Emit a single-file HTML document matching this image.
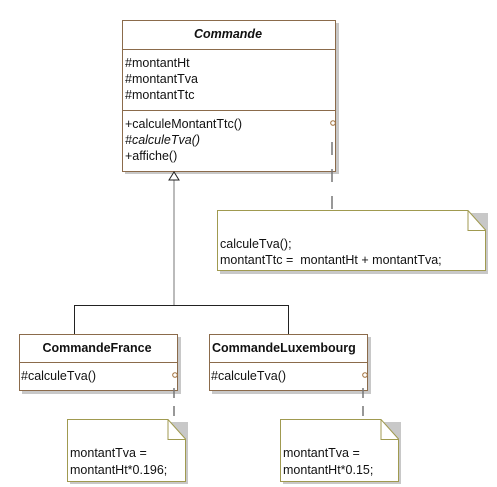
<!DOCTYPE html>
<html><head><meta charset="utf-8"><style>
html,body{margin:0;padding:0;background:#fff;width:497px;height:487px;overflow:hidden}
text{font-family:"Liberation Sans",sans-serif;font-size:12.5px;fill:#111}
</style></head><body>
<svg width="497" height="487" viewBox="0 0 497 487" xmlns="http://www.w3.org/2000/svg">
<!-- Commande -->
<rect x="125" y="23" width="214" height="151" fill="#c8c8c8"/>
<rect x="122.5" y="20.5" width="213" height="151" fill="#fff" stroke="#8b6b4b"/>
<line x1="122" y1="49.5" x2="335" y2="49.5" stroke="#8b6b4b"/>
<line x1="122" y1="110.5" x2="335" y2="110.5" stroke="#8b6b4b"/>
<text x="228" y="38" text-anchor="middle" font-weight="bold" font-style="italic">Commande</text>
<text x="125" y="67">#montantHt</text>
<text x="125" y="83">#montantTva</text>
<text x="125" y="99">#montantTtc</text>
<text x="125" y="128">+calculeMontantTtc()</text>
<text x="125" y="144" font-style="italic">#calculeTva()</text>
<text x="125" y="160">+affiche()</text>
<circle cx="333" cy="123" r="2.3" fill="#fff" stroke="#a0703c"/>
<line x1="332" y1="142" x2="332" y2="210" stroke="#777" stroke-width="1.5" stroke-dasharray="13,14"/>
<!-- inheritance -->
<line x1="174" y1="180" x2="174" y2="305.5" stroke="#777"/>
<polygon points="174,172 169,180 179,180" fill="#fff" stroke="#222"/>
<polyline points="74.5,334 74.5,305.5 288.5,305.5 288.5,334" fill="none" stroke="#222"/>
<!-- note top -->
<rect x="220" y="213" width="268" height="61" fill="#c8c8c8"/>
<path d="M217.5,210.5 H468 L485.5,230 V270.5 H217.5 Z" fill="#fff" stroke="#a09a50"/>
<path d="M468,210.5 V230.5 H485.5" fill="none" stroke="#a09a50"/>
<text x="220" y="248">calculeTva();</text>
<text x="220" y="264">montantTtc =&#160;&#160;montantHt + montantTva;</text>
<!-- CommandeFrance -->
<rect x="22" y="337" width="159" height="57" fill="#c8c8c8"/>
<rect x="19.5" y="334.5" width="158" height="56" fill="#fff" stroke="#8b6b4b"/>
<line x1="19" y1="362.5" x2="178" y2="362.5" stroke="#8b6b4b"/>
<text x="97" y="352" text-anchor="middle" font-weight="bold">CommandeFrance</text>
<text x="21" y="380">#calculeTva()</text>
<circle cx="175" cy="375" r="2.3" fill="#fff" stroke="#a0703c"/>
<line x1="174" y1="388" x2="174" y2="419" stroke="#777" stroke-width="1.5" stroke-dasharray="10,8"/>
<!-- CommandeLuxembourg -->
<rect x="212" y="337" width="159" height="57" fill="#c8c8c8"/>
<rect x="209.5" y="334.5" width="158" height="56" fill="#fff" stroke="#8b6b4b"/>
<line x1="209" y1="362.5" x2="368" y2="362.5" stroke="#8b6b4b"/>
<text x="212" y="352" font-weight="bold">CommandeLuxembourg</text>
<text x="211" y="380">#calculeTva()</text>
<circle cx="365" cy="375" r="2.3" fill="#fff" stroke="#a0703c"/>
<line x1="363" y1="388" x2="363" y2="419" stroke="#777" stroke-width="1.5" stroke-dasharray="10,8"/>
<!-- notes bottom -->
<rect x="70" y="422" width="118" height="62" fill="#c8c8c8"/>
<path d="M67.5,419.5 H168 L185.5,439 V481.5 H67.5 Z" fill="#fff" stroke="#a09a50"/>
<path d="M168,419.5 V439.5 H185.5" fill="none" stroke="#a09a50"/>
<text x="70" y="457">montantTva =</text>
<text x="70" y="474">montantHt*0.196;</text>
<rect x="283" y="422" width="118" height="62" fill="#c8c8c8"/>
<path d="M280.5,419.5 H381 L398.5,439 V481.5 H280.5 Z" fill="#fff" stroke="#a09a50"/>
<path d="M381,419.5 V439.5 H398.5" fill="none" stroke="#a09a50"/>
<text x="283" y="457">montantTva =</text>
<text x="283" y="474">montantHt*0.15;</text>
</svg>
</body></html>
